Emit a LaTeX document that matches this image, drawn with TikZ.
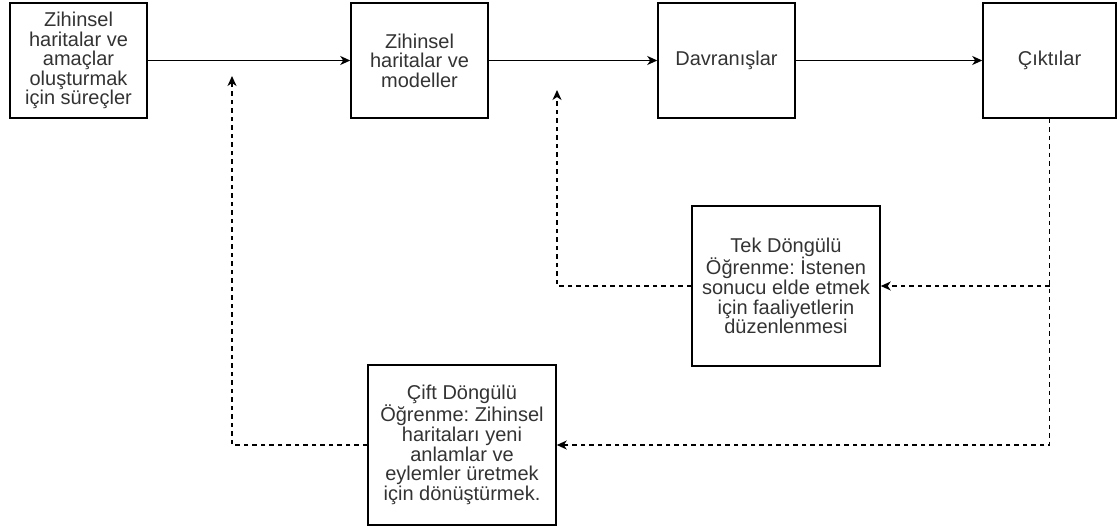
\documentclass[tikz,border=0pt]{standalone}
\usepackage{fontspec}
\setmainfont{Liberation Sans}
\usetikzlibrary{arrows.meta}
\definecolor{txt}{HTML}{333333}
\frenchspacing
\begin{document}
\begin{tikzpicture}[x=1pt,y=-1pt,
  box/.style={draw, line width=1.5pt, inner sep=0pt, text=txt, align=center,
    font=\fontsize{20}{19.6}\selectfont},
  topbox/.style={box, minimum width=137pt, minimum height=115pt},
  loopbox/.style={box, minimum width=188pt, minimum height=160pt},
  flow/.style={line width=1.5pt, -{Stealth[length=10pt,width=9pt,inset=3pt]}},
  loop/.style={flow, dash pattern=on 4.5pt off 4pt}]
\useasboundingbox (0,0) rectangle (1117,526);

% main chain
\node[topbox] (proc) at (78.5,60.5) {Zihinsel\\haritalar ve\\amaçlar\\oluşturmak\\için süreçler};
\node[topbox] (maps) at (419.5,60.5) {Zihinsel\\haritalar ve\\modeller};
\node[topbox] (acts) at (726.5,60.5) {Davranışlar};
\node[box, minimum width=133pt, minimum height=115pt] (outs) at (1049.5,60.5) {Çıktılar};

% learning loops
\node[loopbox] (single) at (786,286) {Tek Döngülü\\Öğrenme: İstenen\\sonucu elde etmek\\için faaliyetlerin\\düzenlenmesi};
\node[loopbox] (double) at (462,445) {Çift Döngülü\\Öğrenme: Zihinsel\\haritaları yeni\\anlamlar ve\\eylemler üretmek\\için dönüştürmek.};

\coordinate (singletip) at (557,90);
\coordinate (doubletip) at (232,76);

\draw[flow] (proc.east) -- (maps.west);
\draw[flow] (maps.east) -- (acts.west);
\draw[flow] (acts.east) -- (outs.west);

\draw[loop] (outs.south) |- (double.east);
\draw[loop] (outs.south |- single.east) -- (single.east);
\draw[loop] (single.west) -| (singletip);
\draw[loop] (double.west) -| (doubletip);
\end{tikzpicture}
\end{document}
